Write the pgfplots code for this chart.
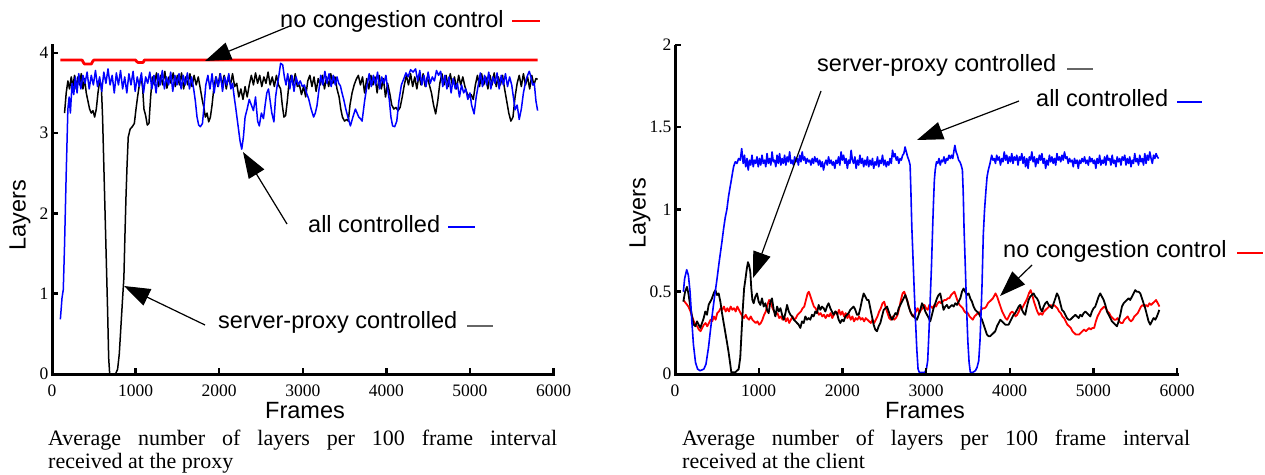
\documentclass[border=0pt]{standalone}
\usepackage{fontspec}
\setmainfont{Liberation Serif}
\newfontfamily\lsans{Liberation Sans}
\usepackage{pgfplots}
\usepackage{pgfplotstable}
\pgfplotsset{compat=1.18}
\usetikzlibrary{arrows.meta}

% ---------- left: received at the proxy ----------
\pgfplotstableread[row sep=\\]{x y\\
100 3.91\\ 360 3.91\\ 375 3.88\\ 390 3.86\\ 470 3.86\\ 485 3.89\\ 500 3.91\\ 1000 3.91\\ 1015 3.89\\ 1030 3.88\\ 1090 3.88\\ 1105 3.91\\ 5810 3.91\\
}\LR

\pgfplotstableread[row sep=\\]{x y\\
100 0.68\\ 120 0.95\\ 135 1.05\\ 150 1.6\\ 170 2.5\\ 190 3.3\\ 205 3.45\\ 220 3.25\\ 240 3.62\\ 260 3.48\\ 280 3.7\\ 300 3.5\\ 320 3.74\\ 345 3.55\\ 370 3.72\\ 395 3.62\\ 420 3.76\\ 445 3.55\\ 470 3.72\\ 495 3.6\\ 520 3.78\\ 545 3.58\\ 570 3.7\\ 595 3.52\\ 620 3.76\\ 645 3.62\\ 670 3.8\\ 695 3.6\\ 720 3.72\\ 745 3.5\\ 770 3.75\\ 795 3.6\\ 820 3.78\\ 845 3.55\\ 870 3.7\\ 895 3.5\\ 920 3.74\\ 945 3.6\\ 970 3.77\\ 995 3.52\\ 1020 3.7\\ 1045 3.58\\ 1070 3.75\\ 1095 3.5\\ 1120 3.7\\ 1145 3.62\\ 1170 3.76\\ 1195 3.55\\ 1220 3.72\\ 1245 3.5\\ 1270 3.74\\ 1295 3.6\\ 1320 3.78\\ 1345 3.55\\ 1370 3.7\\ 1395 3.6\\ 1420 3.76\\ 1445 3.52\\ 1470 3.72\\ 1495 3.6\\ 1520 3.74\\ 1545 3.55\\ 1570 3.72\\ 1595 3.6\\ 1620 3.75\\ 1645 3.55\\ 1670 3.7\\ 1695 3.55\\ 1715 3.4\\ 1735 3.2\\ 1755 3.1\\ 1775 3.08\\ 1800 3.12\\ 1820 3.35\\ 1840 3.6\\ 1865 3.72\\ 1890 3.55\\ 1915 3.74\\ 1940 3.5\\ 1965 3.7\\ 1990 3.58\\ 2015 3.74\\ 2040 3.52\\ 2065 3.7\\ 2090 3.6\\ 2115 3.74\\ 2140 3.55\\ 2160 3.62\\ 2180 3.45\\ 2200 3.3\\ 2225 3.1\\ 2250 2.9\\ 2270 2.8\\ 2290 2.95\\ 2310 3.2\\ 2335 3.3\\ 2360 3.42\\ 2385 3.35\\ 2410 3.28\\ 2435 3.45\\ 2460 3.15\\ 2480 3.09\\ 2505 3.25\\ 2530 3.18\\ 2550 3.35\\ 2570 3.5\\ 2590 3.55\\ 2610 3.4\\ 2630 3.25\\ 2655 3.14\\ 2675 3.45\\ 2695 3.6\\ 2715 3.72\\ 2735 3.87\\ 2760 3.85\\ 2780 3.7\\ 2800 3.6\\ 2820 3.74\\ 2845 3.55\\ 2870 3.72\\ 2895 3.52\\ 2920 3.7\\ 2945 3.6\\ 2970 3.65\\ 2995 3.58\\ 3020 3.6\\ 3045 3.5\\ 3070 3.43\\ 3100 3.3\\ 3130 3.2\\ 3150 3.25\\ 3170 3.34\\ 3195 3.55\\ 3215 3.72\\ 3240 3.6\\ 3265 3.77\\ 3290 3.62\\ 3315 3.74\\ 3340 3.58\\ 3365 3.72\\ 3390 3.6\\ 3410 3.7\\ 3430 3.62\\ 3450 3.59\\ 3470 3.5\\ 3490 3.42\\ 3515 3.3\\ 3540 3.2\\ 3570 3.09\\ 3600 3.2\\ 3630 3.3\\ 3650 3.25\\ 3670 3.2\\ 3690 3.18\\ 3710 3.15\\ 3740 3.4\\ 3770 3.6\\ 3795 3.74\\ 3820 3.58\\ 3845 3.72\\ 3870 3.6\\ 3895 3.76\\ 3920 3.55\\ 3945 3.7\\ 3970 3.62\\ 3995 3.72\\ 4015 3.55\\ 4035 3.42\\ 4055 3.2\\ 4075 3.09\\ 4100 3.08\\ 4125 3.15\\ 4150 3.4\\ 4180 3.6\\ 4210 3.68\\ 4235 3.75\\ 4260 3.7\\ 4290 3.79\\ 4320 3.76\\ 4350 3.8\\ 4375 3.65\\ 4400 3.78\\ 4425 3.6\\ 4450 3.72\\ 4475 3.58\\ 4500 3.76\\ 4525 3.62\\ 4550 3.7\\ 4575 3.65\\ 4600 3.78\\ 4625 3.72\\ 4650 3.77\\ 4675 3.58\\ 4700 3.72\\ 4725 3.55\\ 4750 3.7\\ 4775 3.5\\ 4800 3.68\\ 4825 3.55\\ 4850 3.62\\ 4875 3.45\\ 4900 3.6\\ 4925 3.5\\ 4950 3.55\\ 4975 3.42\\ 5000 3.5\\ 5020 3.35\\ 5050 3.24\\ 5075 3.45\\ 5100 3.6\\ 5125 3.75\\ 5150 3.58\\ 5175 3.72\\ 5200 3.6\\ 5225 3.76\\ 5250 3.55\\ 5275 3.7\\ 5300 3.62\\ 5325 3.75\\ 5350 3.55\\ 5375 3.72\\ 5400 3.6\\ 5425 3.74\\ 5450 3.58\\ 5475 3.7\\ 5500 3.6\\ 5520 3.45\\ 5540 3.29\\ 5565 3.35\\ 5590 3.17\\ 5615 3.3\\ 5640 3.5\\ 5670 3.66\\ 5690 3.72\\ 5710 3.77\\ 5730 3.7\\ 5750 3.6\\ 5770 3.62\\ 5790 3.4\\ 5810 3.28\\
}\LB

\pgfplotstableread[row sep=\\]{x y\\
150 3.25\\ 170 3.5\\ 190 3.65\\ 210 3.55\\ 230 3.7\\ 250 3.58\\ 270 3.72\\ 290 3.55\\ 310 3.7\\ 330 3.6\\ 350 3.74\\ 370 3.55\\ 390 3.68\\ 410 3.5\\ 430 3.4\\ 450 3.3\\ 470 3.25\\ 490 3.28\\ 510 3.2\\ 530 3.3\\ 550 3.5\\ 570 3.65\\ 590 3.6\\ 605 3.2\\ 620 2.6\\ 635 2.0\\ 650 1.4\\ 665 0.8\\ 678 0.2\\ 690 0.0\\ 760 0.0\\ 785 0.06\\ 805 0.25\\ 825 0.6\\ 845 0.95\\ 860 1.2\\ 872 1.7\\ 885 2.2\\ 898 2.6\\ 912 2.95\\ 935 3.05\\ 960 3.08\\ 985 3.12\\ 1005 3.3\\ 1025 3.46\\ 1045 3.6\\ 1065 3.72\\ 1085 3.55\\ 1100 3.3\\ 1120 3.22\\ 1140 3.1\\ 1160 3.12\\ 1180 3.45\\ 1200 3.7\\ 1225 3.6\\ 1250 3.75\\ 1275 3.58\\ 1300 3.72\\ 1325 3.6\\ 1350 3.77\\ 1375 3.56\\ 1400 3.7\\ 1425 3.62\\ 1450 3.75\\ 1475 3.58\\ 1500 3.72\\ 1525 3.6\\ 1550 3.75\\ 1575 3.55\\ 1600 3.7\\ 1625 3.6\\ 1650 3.74\\ 1675 3.58\\ 1700 3.72\\ 1725 3.6\\ 1750 3.7\\ 1775 3.55\\ 1800 3.4\\ 1815 3.33\\ 1835 3.2\\ 1855 3.25\\ 1875 3.14\\ 1895 3.2\\ 1915 3.35\\ 1935 3.55\\ 1960 3.7\\ 1985 3.58\\ 2010 3.74\\ 2035 3.6\\ 2060 3.72\\ 2085 3.55\\ 2110 3.7\\ 2135 3.6\\ 2160 3.74\\ 2185 3.58\\ 2210 3.62\\ 2235 3.45\\ 2260 3.55\\ 2285 3.42\\ 2310 3.58\\ 2335 3.45\\ 2360 3.6\\ 2385 3.72\\ 2410 3.6\\ 2435 3.75\\ 2460 3.62\\ 2485 3.72\\ 2510 3.58\\ 2535 3.7\\ 2560 3.62\\ 2585 3.76\\ 2610 3.6\\ 2635 3.7\\ 2660 3.58\\ 2685 3.72\\ 2710 3.6\\ 2735 3.55\\ 2755 3.35\\ 2775 3.2\\ 2795 3.22\\ 2815 3.4\\ 2835 3.62\\ 2860 3.72\\ 2885 3.6\\ 2910 3.74\\ 2935 3.58\\ 2960 3.6\\ 2985 3.48\\ 3010 3.58\\ 3035 3.45\\ 3060 3.65\\ 3085 3.72\\ 3110 3.58\\ 3135 3.7\\ 3160 3.52\\ 3185 3.68\\ 3210 3.6\\ 3235 3.72\\ 3260 3.55\\ 3285 3.7\\ 3310 3.58\\ 3335 3.74\\ 3360 3.62\\ 3385 3.7\\ 3410 3.55\\ 3435 3.45\\ 3455 3.3\\ 3475 3.2\\ 3500 3.15\\ 3525 3.17\\ 3545 3.15\\ 3565 3.35\\ 3590 3.5\\ 3615 3.6\\ 3640 3.67\\ 3665 3.72\\ 3690 3.6\\ 3715 3.7\\ 3740 3.5\\ 3765 3.68\\ 3790 3.55\\ 3815 3.72\\ 3840 3.6\\ 3865 3.7\\ 3890 3.5\\ 3915 3.72\\ 3940 3.55\\ 3965 3.68\\ 3990 3.45\\ 4015 3.62\\ 4040 3.5\\ 4065 3.35\\ 4090 3.3\\ 4115 3.32\\ 4140 3.28\\ 4165 3.32\\ 4190 3.45\\ 4215 3.6\\ 4240 3.72\\ 4265 3.6\\ 4290 3.74\\ 4315 3.58\\ 4340 3.7\\ 4365 3.55\\ 4390 3.72\\ 4415 3.6\\ 4440 3.74\\ 4465 3.58\\ 4490 3.7\\ 4515 3.6\\ 4540 3.5\\ 4565 3.35\\ 4590 3.24\\ 4615 3.4\\ 4640 3.62\\ 4665 3.74\\ 4690 3.6\\ 4715 3.72\\ 4740 3.58\\ 4765 3.74\\ 4790 3.6\\ 4815 3.7\\ 4840 3.55\\ 4865 3.72\\ 4890 3.6\\ 4915 3.7\\ 4940 3.58\\ 4965 3.5\\ 4990 3.45\\ 5015 3.48\\ 5040 3.42\\ 5065 3.6\\ 5090 3.72\\ 5115 3.58\\ 5140 3.74\\ 5165 3.6\\ 5190 3.7\\ 5215 3.55\\ 5240 3.72\\ 5265 3.6\\ 5290 3.75\\ 5315 3.58\\ 5340 3.7\\ 5365 3.6\\ 5390 3.72\\ 5415 3.55\\ 5440 3.4\\ 5465 3.25\\ 5490 3.15\\ 5515 3.2\\ 5540 3.45\\ 5565 3.62\\ 5590 3.72\\ 5615 3.58\\ 5640 3.74\\ 5665 3.6\\ 5690 3.7\\ 5715 3.55\\ 5740 3.72\\ 5765 3.6\\ 5790 3.68\\ 5810 3.67\\
}\LK

% ---------- right: received at the client ----------
\pgfplotstableread[row sep=\\]{x y\\
100 0.5\\ 115 0.58\\ 140 0.634\\ 160 0.6\\ 180 0.5\\ 200 0.33\\ 220 0.18\\ 245 0.07\\ 270 0.03\\ 300 0.02\\ 345 0.03\\ 370 0.06\\ 400 0.16\\ 420 0.25\\ 445 0.36\\ 470 0.46\\ 500 0.57\\ 530 0.69\\ 560 0.8\\ 580 0.88\\ 600 0.95\\ 620 1.0\\ 640 1.08\\ 660 1.14\\ 680 1.2\\ 700 1.26\\ 720 1.29\\ 740 1.28\\ 760 1.31\\ 780 1.3\\ 797 1.37\\ 815 1.28\\ 830 1.33\\ 845 1.26\\ 860 1.31\\ 875 1.24\\ 890 1.3\\ 905 1.27\\ 920 1.33\\ 935 1.26\\ 950 1.3\\ 965 1.28\\ 980 1.32\\ 995 1.26\\ 1010 1.31\\ 1025 1.27\\ 1040 1.33\\ 1055 1.28\\ 1070 1.3\\ 1085 1.26\\ 1100 1.34\\ 1115 1.28\\ 1130 1.31\\ 1145 1.27\\ 1160 1.35\\ 1175 1.29\\ 1190 1.3\\ 1205 1.26\\ 1220 1.33\\ 1235 1.28\\ 1250 1.34\\ 1265 1.27\\ 1280 1.31\\ 1295 1.28\\ 1310 1.33\\ 1325 1.27\\ 1340 1.32\\ 1355 1.29\\ 1370 1.35\\ 1385 1.28\\ 1400 1.3\\ 1415 1.27\\ 1430 1.32\\ 1445 1.29\\ 1460 1.31\\ 1475 1.27\\ 1490 1.33\\ 1505 1.29\\ 1520 1.35\\ 1535 1.3\\ 1550 1.32\\ 1565 1.28\\ 1580 1.31\\ 1595 1.29\\ 1610 1.3\\ 1625 1.27\\ 1640 1.31\\ 1655 1.28\\ 1670 1.32\\ 1685 1.29\\ 1700 1.31\\ 1715 1.27\\ 1730 1.3\\ 1745 1.26\\ 1760 1.29\\ 1775 1.24\\ 1790 1.28\\ 1805 1.3\\ 1820 1.27\\ 1835 1.32\\ 1850 1.28\\ 1865 1.3\\ 1880 1.27\\ 1895 1.29\\ 1910 1.25\\ 1925 1.3\\ 1940 1.28\\ 1955 1.32\\ 1970 1.27\\ 1985 1.35\\ 2000 1.3\\ 2015 1.33\\ 2030 1.28\\ 2045 1.31\\ 2060 1.25\\ 2075 1.3\\ 2090 1.28\\ 2105 1.36\\ 2120 1.3\\ 2135 1.28\\ 2150 1.32\\ 2165 1.25\\ 2180 1.3\\ 2195 1.27\\ 2210 1.33\\ 2225 1.28\\ 2240 1.31\\ 2255 1.26\\ 2270 1.3\\ 2285 1.27\\ 2300 1.32\\ 2315 1.26\\ 2330 1.3\\ 2345 1.27\\ 2360 1.31\\ 2375 1.25\\ 2390 1.29\\ 2405 1.27\\ 2420 1.32\\ 2435 1.26\\ 2450 1.3\\ 2465 1.28\\ 2480 1.33\\ 2495 1.27\\ 2510 1.3\\ 2525 1.26\\ 2540 1.29\\ 2555 1.27\\ 2570 1.31\\ 2585 1.28\\ 2600 1.36\\ 2615 1.32\\ 2630 1.34\\ 2645 1.3\\ 2660 1.32\\ 2675 1.28\\ 2690 1.31\\ 2705 1.3\\ 2720 1.33\\ 2735 1.34\\ 2750 1.38\\ 2765 1.35\\ 2780 1.32\\ 2795 1.3\\ 2810 1.27\\ 2820 1.1\\ 2830 0.9\\ 2845 0.7\\ 2860 0.5\\ 2875 0.32\\ 2890 0.15\\ 2905 0.03\\ 2920 0.01\\ 2950 0.01\\ 2985 0.01\\ 3005 0.03\\ 3020 0.08\\ 3035 0.25\\ 3050 0.45\\ 3065 0.65\\ 3080 0.9\\ 3090 1.05\\ 3100 1.18\\ 3110 1.24\\ 3125 1.29\\ 3140 1.28\\ 3155 1.31\\ 3170 1.27\\ 3185 1.3\\ 3200 1.29\\ 3215 1.32\\ 3230 1.28\\ 3245 1.31\\ 3260 1.3\\ 3275 1.33\\ 3290 1.31\\ 3305 1.33\\ 3320 1.31\\ 3335 1.36\\ 3345 1.39\\ 3360 1.35\\ 3375 1.33\\ 3390 1.3\\ 3405 1.29\\ 3420 1.27\\ 3435 1.24\\ 3445 1.1\\ 3455 0.88\\ 3470 0.65\\ 3485 0.4\\ 3500 0.2\\ 3515 0.07\\ 3530 0.01\\ 3560 0.01\\ 3590 0.02\\ 3610 0.04\\ 3630 0.08\\ 3645 0.2\\ 3660 0.4\\ 3670 0.55\\ 3685 0.85\\ 3700 1.0\\ 3717 1.12\\ 3730 1.2\\ 3745 1.24\\ 3765 1.28\\ 3785 1.33\\ 3800 1.3\\ 3815 1.31\\ 3830 1.28\\ 3845 1.33\\ 3860 1.3\\ 3875 1.32\\ 3890 1.27\\ 3905 1.31\\ 3920 1.29\\ 3935 1.35\\ 3950 1.3\\ 3965 1.33\\ 3980 1.28\\ 3995 1.32\\ 4010 1.29\\ 4025 1.34\\ 4040 1.28\\ 4055 1.32\\ 4070 1.3\\ 4085 1.33\\ 4100 1.27\\ 4115 1.32\\ 4130 1.3\\ 4145 1.34\\ 4160 1.28\\ 4175 1.32\\ 4190 1.26\\ 4205 1.31\\ 4220 1.25\\ 4235 1.32\\ 4250 1.3\\ 4265 1.35\\ 4280 1.29\\ 4295 1.32\\ 4310 1.26\\ 4325 1.31\\ 4340 1.28\\ 4355 1.33\\ 4370 1.3\\ 4385 1.34\\ 4400 1.28\\ 4415 1.31\\ 4430 1.25\\ 4445 1.3\\ 4460 1.27\\ 4475 1.33\\ 4490 1.29\\ 4505 1.32\\ 4520 1.28\\ 4535 1.31\\ 4550 1.27\\ 4565 1.34\\ 4580 1.3\\ 4595 1.32\\ 4610 1.29\\ 4625 1.33\\ 4640 1.3\\ 4655 1.35\\ 4670 1.31\\ 4685 1.32\\ 4700 1.28\\ 4715 1.31\\ 4730 1.29\\ 4745 1.3\\ 4760 1.26\\ 4775 1.31\\ 4790 1.28\\ 4805 1.3\\ 4820 1.25\\ 4835 1.3\\ 4850 1.28\\ 4865 1.31\\ 4880 1.29\\ 4895 1.32\\ 4910 1.28\\ 4925 1.3\\ 4940 1.27\\ 4955 1.32\\ 4970 1.29\\ 4985 1.31\\ 5000 1.28\\ 5015 1.3\\ 5030 1.25\\ 5045 1.31\\ 5060 1.28\\ 5075 1.33\\ 5090 1.27\\ 5105 1.3\\ 5120 1.28\\ 5135 1.32\\ 5150 1.27\\ 5165 1.33\\ 5180 1.3\\ 5195 1.31\\ 5210 1.27\\ 5225 1.33\\ 5240 1.28\\ 5255 1.3\\ 5270 1.26\\ 5285 1.32\\ 5300 1.29\\ 5315 1.31\\ 5330 1.27\\ 5345 1.32\\ 5360 1.3\\ 5375 1.33\\ 5390 1.27\\ 5405 1.31\\ 5420 1.28\\ 5435 1.32\\ 5450 1.26\\ 5465 1.3\\ 5480 1.28\\ 5495 1.34\\ 5510 1.29\\ 5525 1.31\\ 5540 1.27\\ 5555 1.33\\ 5570 1.29\\ 5585 1.31\\ 5600 1.27\\ 5615 1.34\\ 5630 1.28\\ 5645 1.33\\ 5660 1.3\\ 5675 1.35\\ 5690 1.31\\ 5705 1.28\\ 5720 1.33\\ 5735 1.31\\ 5750 1.34\\ 5765 1.32\\ 5780 1.31\\
}\RB

\pgfplotstableread[row sep=\\]{x y\\
100 0.45\\ 130 0.43\\ 160 0.41\\ 185 0.38\\ 205 0.35\\ 225 0.32\\ 245 0.3\\ 265 0.29\\ 285 0.27\\ 305 0.26\\ 325 0.28\\ 345 0.3\\ 365 0.31\\ 385 0.29\\ 405 0.31\\ 425 0.33\\ 445 0.32\\ 465 0.35\\ 485 0.33\\ 505 0.37\\ 525 0.38\\ 545 0.4\\ 565 0.39\\ 585 0.41\\ 605 0.38\\ 625 0.4\\ 645 0.38\\ 665 0.41\\ 685 0.39\\ 705 0.4\\ 725 0.38\\ 745 0.41\\ 765 0.39\\ 785 0.37\\ 805 0.35\\ 825 0.34\\ 845 0.36\\ 865 0.34\\ 885 0.33\\ 905 0.35\\ 925 0.33\\ 945 0.32\\ 965 0.31\\ 985 0.32\\ 1005 0.3\\ 1025 0.31\\ 1045 0.33\\ 1065 0.36\\ 1085 0.38\\ 1105 0.42\\ 1125 0.45\\ 1145 0.44\\ 1165 0.4\\ 1185 0.38\\ 1205 0.36\\ 1225 0.37\\ 1245 0.34\\ 1265 0.35\\ 1285 0.33\\ 1305 0.35\\ 1325 0.32\\ 1345 0.34\\ 1365 0.31\\ 1385 0.33\\ 1405 0.35\\ 1425 0.33\\ 1445 0.34\\ 1465 0.36\\ 1485 0.37\\ 1505 0.38\\ 1525 0.4\\ 1545 0.41\\ 1565 0.45\\ 1585 0.49\\ 1600 0.5\\ 1620 0.47\\ 1640 0.44\\ 1660 0.41\\ 1680 0.4\\ 1700 0.38\\ 1720 0.36\\ 1740 0.37\\ 1760 0.35\\ 1780 0.36\\ 1800 0.34\\ 1820 0.36\\ 1840 0.35\\ 1860 0.37\\ 1880 0.34\\ 1900 0.36\\ 1920 0.38\\ 1940 0.36\\ 1960 0.39\\ 1980 0.36\\ 2000 0.38\\ 2020 0.35\\ 2040 0.37\\ 2060 0.34\\ 2080 0.36\\ 2100 0.33\\ 2120 0.35\\ 2140 0.32\\ 2160 0.34\\ 2180 0.33\\ 2200 0.35\\ 2220 0.33\\ 2240 0.34\\ 2260 0.32\\ 2280 0.34\\ 2300 0.33\\ 2320 0.32\\ 2340 0.31\\ 2360 0.33\\ 2380 0.31\\ 2400 0.33\\ 2420 0.35\\ 2440 0.38\\ 2460 0.4\\ 2480 0.43\\ 2500 0.44\\ 2520 0.4\\ 2540 0.37\\ 2560 0.34\\ 2580 0.33\\ 2600 0.35\\ 2620 0.33\\ 2640 0.34\\ 2660 0.36\\ 2680 0.4\\ 2700 0.45\\ 2720 0.49\\ 2740 0.5\\ 2760 0.47\\ 2780 0.44\\ 2800 0.4\\ 2820 0.37\\ 2840 0.35\\ 2860 0.36\\ 2880 0.38\\ 2900 0.4\\ 2920 0.37\\ 2940 0.39\\ 2960 0.4\\ 2980 0.42\\ 3000 0.4\\ 3020 0.39\\ 3040 0.42\\ 3060 0.41\\ 3080 0.4\\ 3100 0.42\\ 3120 0.41\\ 3140 0.43\\ 3160 0.44\\ 3180 0.43\\ 3200 0.44\\ 3220 0.45\\ 3240 0.45\\ 3260 0.46\\ 3280 0.46\\ 3300 0.48\\ 3320 0.49\\ 3340 0.5\\ 3360 0.47\\ 3380 0.44\\ 3400 0.42\\ 3420 0.41\\ 3440 0.4\\ 3460 0.38\\ 3480 0.37\\ 3500 0.37\\ 3520 0.35\\ 3540 0.34\\ 3560 0.33\\ 3580 0.35\\ 3600 0.36\\ 3620 0.37\\ 3640 0.37\\ 3660 0.39\\ 3680 0.4\\ 3700 0.4\\ 3720 0.41\\ 3740 0.43\\ 3760 0.44\\ 3780 0.45\\ 3800 0.46\\ 3830 0.49\\ 3850 0.47\\ 3870 0.44\\ 3890 0.41\\ 3910 0.38\\ 3930 0.36\\ 3950 0.34\\ 3970 0.33\\ 3990 0.35\\ 4010 0.37\\ 4030 0.38\\ 4050 0.37\\ 4070 0.35\\ 4090 0.36\\ 4110 0.38\\ 4130 0.41\\ 4150 0.4\\ 4170 0.42\\ 4190 0.44\\ 4210 0.46\\ 4230 0.49\\ 4250 0.51\\ 4270 0.48\\ 4290 0.44\\ 4310 0.41\\ 4330 0.38\\ 4350 0.36\\ 4370 0.37\\ 4390 0.36\\ 4410 0.38\\ 4430 0.39\\ 4450 0.4\\ 4470 0.41\\ 4490 0.42\\ 4510 0.41\\ 4530 0.42\\ 4550 0.41\\ 4570 0.4\\ 4590 0.38\\ 4610 0.37\\ 4630 0.35\\ 4650 0.34\\ 4670 0.32\\ 4690 0.3\\ 4710 0.29\\ 4730 0.28\\ 4750 0.26\\ 4770 0.25\\ 4790 0.24\\ 4810 0.24\\ 4830 0.24\\ 4850 0.25\\ 4870 0.26\\ 4890 0.27\\ 4910 0.26\\ 4930 0.27\\ 4950 0.28\\ 4970 0.27\\ 4990 0.28\\ 5010 0.28\\ 5030 0.32\\ 5050 0.35\\ 5070 0.37\\ 5090 0.39\\ 5110 0.4\\ 5130 0.41\\ 5150 0.4\\ 5170 0.38\\ 5190 0.37\\ 5210 0.35\\ 5230 0.34\\ 5250 0.33\\ 5270 0.33\\ 5290 0.34\\ 5310 0.32\\ 5330 0.31\\ 5350 0.31\\ 5370 0.33\\ 5390 0.34\\ 5410 0.35\\ 5430 0.33\\ 5450 0.32\\ 5470 0.33\\ 5490 0.35\\ 5510 0.36\\ 5530 0.37\\ 5550 0.39\\ 5570 0.41\\ 5590 0.42\\ 5610 0.41\\ 5630 0.42\\ 5650 0.41\\ 5670 0.43\\ 5690 0.42\\ 5710 0.43\\ 5730 0.44\\ 5750 0.45\\ 5770 0.43\\ 5790 0.41\\
}\RR

\pgfplotstableread[row sep=\\]{x y\\
100 0.44\\ 120 0.5\\ 143 0.53\\ 160 0.49\\ 180 0.42\\ 203 0.35\\ 223 0.3\\ 243 0.29\\ 263 0.32\\ 283 0.3\\ 303 0.28\\ 323 0.31\\ 343 0.34\\ 362 0.38\\ 382 0.36\\ 402 0.42\\ 422 0.44\\ 442 0.46\\ 462 0.49\\ 482 0.51\\ 502 0.48\\ 522 0.49\\ 542 0.44\\ 562 0.37\\ 582 0.31\\ 602 0.25\\ 622 0.19\\ 641 0.13\\ 660 0.06\\ 673 0.01\\ 721 0.01\\ 761 0.03\\ 780 0.1\\ 795 0.25\\ 812 0.41\\ 826 0.52\\ 840 0.57\\ 858 0.64\\ 872 0.68\\ 886 0.66\\ 900 0.62\\ 912 0.52\\ 925 0.45\\ 940 0.43\\ 960 0.47\\ 980 0.49\\ 1000 0.44\\ 1020 0.42\\ 1040 0.46\\ 1060 0.41\\ 1080 0.43\\ 1100 0.39\\ 1119 0.37\\ 1140 0.44\\ 1159 0.46\\ 1180 0.39\\ 1199 0.35\\ 1220 0.41\\ 1240 0.38\\ 1260 0.4\\ 1280 0.36\\ 1299 0.33\\ 1320 0.37\\ 1339 0.42\\ 1360 0.38\\ 1380 0.36\\ 1398 0.35\\ 1420 0.33\\ 1440 0.32\\ 1458 0.31\\ 1478 0.3\\ 1498 0.28\\ 1518 0.32\\ 1538 0.31\\ 1558 0.35\\ 1578 0.33\\ 1598 0.34\\ 1617 0.33\\ 1637 0.36\\ 1657 0.35\\ 1677 0.38\\ 1697 0.37\\ 1717 0.42\\ 1737 0.39\\ 1757 0.41\\ 1777 0.4\\ 1797 0.38\\ 1816 0.41\\ 1836 0.43\\ 1856 0.4\\ 1876 0.38\\ 1896 0.36\\ 1916 0.38\\ 1936 0.37\\ 1956 0.33\\ 1976 0.31\\ 1996 0.33\\ 2016 0.32\\ 2036 0.35\\ 2055 0.36\\ 2075 0.37\\ 2095 0.39\\ 2115 0.4\\ 2135 0.41\\ 2155 0.39\\ 2175 0.36\\ 2195 0.36\\ 2215 0.4\\ 2235 0.45\\ 2255 0.49\\ 2275 0.47\\ 2295 0.45\\ 2314 0.45\\ 2334 0.4\\ 2354 0.35\\ 2374 0.3\\ 2394 0.27\\ 2414 0.26\\ 2434 0.29\\ 2454 0.31\\ 2474 0.35\\ 2494 0.39\\ 2514 0.4\\ 2534 0.41\\ 2554 0.38\\ 2574 0.35\\ 2594 0.33\\ 2614 0.35\\ 2634 0.37\\ 2654 0.36\\ 2673 0.4\\ 2693 0.42\\ 2713 0.44\\ 2733 0.46\\ 2753 0.48\\ 2773 0.45\\ 2793 0.41\\ 2812 0.38\\ 2832 0.36\\ 2852 0.35\\ 2872 0.34\\ 2892 0.33\\ 2912 0.36\\ 2932 0.39\\ 2952 0.43\\ 2972 0.41\\ 2992 0.38\\ 3012 0.36\\ 3032 0.34\\ 3051 0.32\\ 3071 0.36\\ 3091 0.4\\ 3111 0.43\\ 3131 0.46\\ 3150 0.48\\ 3170 0.49\\ 3190 0.44\\ 3210 0.39\\ 3230 0.41\\ 3250 0.42\\ 3270 0.4\\ 3290 0.41\\ 3310 0.42\\ 3330 0.41\\ 3350 0.43\\ 3370 0.42\\ 3390 0.44\\ 3410 0.46\\ 3430 0.5\\ 3449 0.52\\ 3469 0.5\\ 3489 0.48\\ 3509 0.49\\ 3529 0.46\\ 3549 0.44\\ 3569 0.41\\ 3589 0.39\\ 3609 0.38\\ 3629 0.37\\ 3649 0.35\\ 3669 0.33\\ 3689 0.3\\ 3708 0.27\\ 3728 0.24\\ 3748 0.23\\ 3768 0.23\\ 3788 0.24\\ 3808 0.25\\ 3828 0.26\\ 3848 0.29\\ 3868 0.31\\ 3888 0.33\\ 3908 0.32\\ 3928 0.31\\ 3948 0.3\\ 3968 0.3\\ 3987 0.3\\ 4007 0.32\\ 4027 0.34\\ 4047 0.36\\ 4067 0.37\\ 4087 0.39\\ 4107 0.41\\ 4127 0.42\\ 4147 0.39\\ 4167 0.37\\ 4186 0.36\\ 4206 0.41\\ 4226 0.45\\ 4246 0.47\\ 4266 0.48\\ 4286 0.49\\ 4306 0.47\\ 4326 0.46\\ 4346 0.44\\ 4366 0.4\\ 4386 0.38\\ 4406 0.41\\ 4426 0.43\\ 4446 0.44\\ 4466 0.42\\ 4486 0.41\\ 4506 0.4\\ 4526 0.43\\ 4546 0.46\\ 4565 0.49\\ 4585 0.47\\ 4605 0.43\\ 4625 0.39\\ 4645 0.38\\ 4665 0.36\\ 4685 0.34\\ 4705 0.33\\ 4724 0.33\\ 4744 0.34\\ 4764 0.35\\ 4784 0.36\\ 4804 0.35\\ 4824 0.34\\ 4844 0.36\\ 4864 0.35\\ 4884 0.37\\ 4904 0.38\\ 4924 0.37\\ 4944 0.36\\ 4963 0.35\\ 4983 0.38\\ 5003 0.4\\ 5023 0.41\\ 5043 0.44\\ 5063 0.47\\ 5083 0.49\\ 5103 0.47\\ 5123 0.45\\ 5143 0.42\\ 5163 0.38\\ 5183 0.36\\ 5203 0.34\\ 5222 0.32\\ 5242 0.31\\ 5262 0.3\\ 5282 0.29\\ 5302 0.32\\ 5322 0.36\\ 5342 0.41\\ 5362 0.43\\ 5382 0.44\\ 5401 0.45\\ 5421 0.46\\ 5441 0.45\\ 5461 0.47\\ 5481 0.49\\ 5501 0.51\\ 5521 0.5\\ 5541 0.5\\ 5561 0.49\\ 5581 0.46\\ 5600 0.43\\ 5620 0.4\\ 5640 0.36\\ 5660 0.32\\ 5680 0.3\\ 5700 0.32\\ 5720 0.34\\ 5740 0.33\\ 5760 0.35\\ 5775 0.37\\ 5788 0.39\\
}\RK

\pgfplotsset{
  panel/.style={
    scale only axis,
    axis x line=bottom, axis y line=left,
    axis line style={-},
    xmin=0, xmax=6000,
    xtick={0,1000,2000,3000,4000,5000,6000},
    tick align=inside,
    ticklabel style={font=\fontsize{17.5pt}{20pt}\selectfont},
    xticklabel shift=7pt,
    /pgf/number format/assume math mode=true,
    /pgf/number format/1000 sep={},
    scaled ticks=false,
    clip=false,
  },
}

\begin{document}
\begin{tikzpicture}[x=1pt,y=1pt]
\useasboundingbox (0,0) rectangle (1265,474);

% ----- left axis -----
\begin{axis}[panel, at={(52pt,100pt)}, anchor=south west,
  width=501.5pt, height=330pt, ymin=0, ymax=4.11, ytick={0,1,2,3,4}]
\addplot[black, line width=1.5pt, line join=round] table {\LK};
\addplot[blue, line width=1.5pt, line join=round] table {\LB};
\addplot[red, line width=2.8pt, line join=round] table {\LR};
\end{axis}

% ----- right axis -----
\begin{axis}[panel, at={(675pt,100pt)}, anchor=south west,
  width=502pt, height=329pt, ymin=0, ymax=2, ytick={0,0.5,1,1.5,2},
  yticklabels={0,0.5,1,1.5,2}]
\addplot[red, line width=1.8pt, line join=round] table {\RR};
\addplot[black, line width=1.8pt, line join=round] table {\RK};
\addplot[blue, line width=1.6pt, line join=round] table {\RB};
\end{axis}

% ----- heavy axis lines and inward ticks (filled bars) -----
\fill[black] (50.5,98.5) rectangle (53.5,430);
\fill[black] (50.5,98.5) rectangle (555,101.5);
\fill[black] (673.5,98.5) rectangle (676.5,429);
\fill[black] (673.5,98.5) rectangle (1178.5,101.5);
\foreach \x in {135.6,219.2,302.8,386.3,469.9,553.5,758.7,842.3,926,1009.7,1093.3,1177}
  \fill[black] (\x-1.2,100) rectangle (\x+1.2,106);
\foreach \y in {180.3,260.6,340.9,421.2}
  \fill[black] (52,\y-1.2) rectangle (58,\y+1.2);
\foreach \y in {182.3,264.5,346.8,429}
  \fill[black] (675,\y-1.2) rectangle (681,\y+1.2);

% ----- axis titles -----
\begin{scope}[every node/.style={inner sep=0pt, font=\lsans\fontsize{23.5pt}{26pt}\selectfont}]
\node[rotate=90] at (20,259) {Layers};
\node[rotate=90] at (640,261) {Layers};
\node[anchor=base] at (305,56) {Frames};
\node[anchor=base] at (925,56) {Frames};

% annotations left
\node[anchor=base west] at (280,446) {no congestion control};
\node[anchor=base west] at (308,241) {all controlled};
\node[anchor=base west] at (218,146) {server-proxy controlled};
% annotations right
\node[anchor=base west] at (817,402) {server-proxy controlled};
\node[anchor=base west] at (1036,367) {all controlled};
\node[anchor=base west] at (1003,216) {no congestion control};
\end{scope}

% legend-like dashes
\draw[red, line width=1.1pt] (512,453) -- (540,453);
\draw[blue, line width=1.1pt] (448,247) -- (475,247);
\draw[black!60, line width=1.1pt] (467,148) -- (493,148);
\draw[black!60, line width=1.1pt] (1067,405) -- (1093,405);
\draw[blue, line width=1.1pt] (1177,372) -- (1202,372);
\draw[red, line width=1.1pt] (1237,221) -- (1263,221);

% arrows
\begin{scope}[line width=1.2pt, -{Triangle[length=26pt,width=18pt]}]
\draw (290,448) -- (205,413);
\draw (287,250) -- (243,322);
\draw (205,149) -- (124,188);
\draw (821,383) -- (753,196);
\draw (1019,373) -- (917,334);
\draw (1032,209) -- (1000,178);
\end{scope}

% captions
\node[anchor=base west, inner sep=0pt, font=\fontsize{22pt}{23pt}\selectfont] at (48,29)
  {\parbox[t]{509pt}{\parindent=0pt Average number of layers per 100 frame interval\linebreak received at the proxy}};
\node[anchor=base west, inner sep=0pt, font=\fontsize{22pt}{23pt}\selectfont] at (682,29)
  {\parbox[t]{508pt}{\parindent=0pt Average number of layers per 100 frame interval\linebreak received at the client}};
\end{tikzpicture}
\end{document}
